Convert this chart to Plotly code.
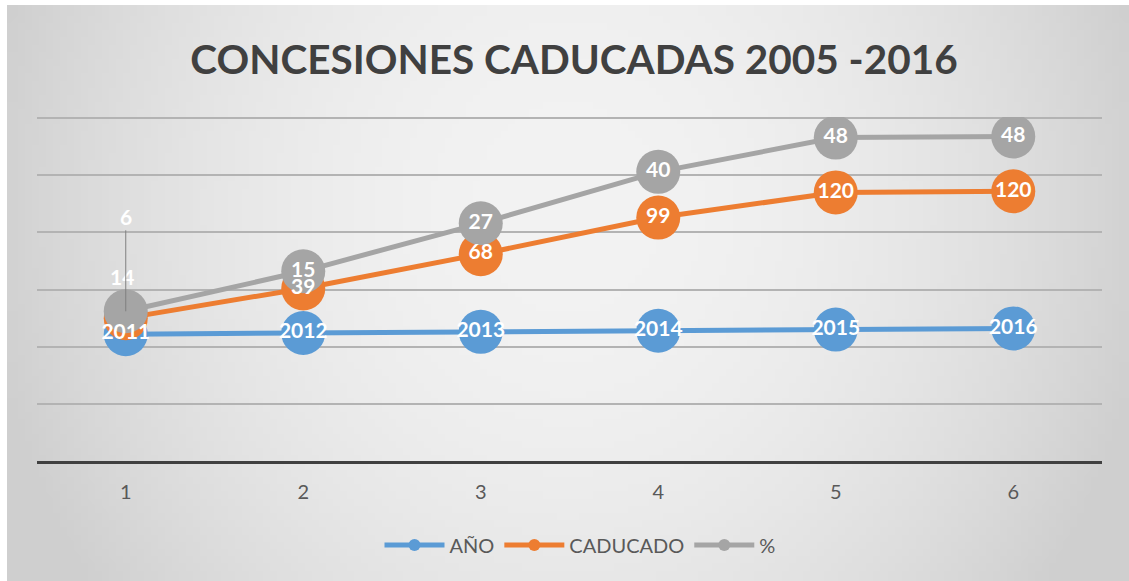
import zlib, struct, base64
import numpy as np
import plotly.graph_objects as go

# ---------------- data ----------------
categories = ["1", "2", "3", "4", "5", "6"]
ano = [2011, 2012, 2013, 2014, 2015, 2016]
caducado = [14, 39, 68, 99, 120, 120]
pct = [6, 15, 27, 40, 48, 48]
series_names = ["AÑO", "CADUCADO", "%"]
title_text = "CONCESIONES CADUCADAS 2005 -2016"

# stacked line (Excel "stacked line with markers")
s1 = np.array(ano, dtype=float)
s2 = s1 + np.array(caducado)
s3 = s2 + np.array(pct)

colors = ["#5B9BD5", "#ED7D31", "#A5A5A5"]

W, H = 1129, 581
L, R, T, B = 37, 27, 117, 120
PW, PH = W - L - R, H - T - B


# ---------------- background gradient image ----------------
def png_gray(w, h, pix):
    raw = b"".join(b"\x00" + bytes(pix[j * w:(j + 1) * w]) for j in range(h))

    def chunk(t, d):
        c = struct.pack(">I", len(d)) + t + d
        return c + struct.pack(">I", zlib.crc32(t + d) & 0xFFFFFFFF)

    return (b"\x89PNG\r\n\x1a\n"
            + chunk(b"IHDR", struct.pack(">IIBBBBB", w, h, 8, 0, 0, 0, 0))
            + chunk(b"IDAT", zlib.compress(raw))
            + chunk(b"IEND", b""))


gw, gh = 160, 80
pix = []
for j in range(gh):
    for i in range(gw):
        dx = (i / (gw - 1) - 0.5) / 0.5
        dy = (j / (gh - 1) - 0.35) / 0.65
        d = dx * dx + 0.35 * dy * dy
        v = 243 - 32 * min(d, 1.1)
        pix.append(int(max(207, min(245, v))))
bg_uri = "data:image/png;base64," + base64.b64encode(png_gray(gw, gh, pix)).decode()

fig = go.Figure()

# lines + markers
for name, ys, col in zip(series_names, [s1, s2, s3], colors):
    fig.add_trace(go.Scatter(
        x=categories, y=ys, name=name, mode="lines+markers",
        line=dict(color=col, width=5),
        marker=dict(color=col, size=44),
        hoverinfo="skip",
    ))

# data labels on top of all markers
lab1 = [str(v) for v in ano]
lab2 = [""] + [str(v) for v in caducado[1:]]
lab3 = [""] + [str(v) for v in pct[1:]]
for ys, labs in zip([s1, s2, s3], [lab1, lab2, lab3]):
    fig.add_trace(go.Scatter(
        x=categories, y=ys, mode="text", text=labs,
        textposition="middle center",
        textfont=dict(family="Lato", size=21, color="white", weight="bold"),
        showlegend=False, hoverinfo="skip",
    ))

# moved labels for the first category (x given as category index)
fig.add_annotation(x=0, y=s2[0], text=f"<b>{caducado[0]}</b>",
                   showarrow=False, yshift=42, xshift=-4,
                   font=dict(family="Lato", size=21, color="white"))
fig.add_annotation(x=0, y=s3[0], text=f"<b>{pct[0]}</b>",
                   showarrow=True, ax=0, ay=-95, arrowhead=0, arrowwidth=1,
                   arrowcolor="#7f7f7f",
                   font=dict(family="Lato", size=21, color="white"))

fig.update_layout(
    width=W, height=H,
    margin=dict(l=L, r=R, t=T, b=B, autoexpand=False),
    paper_bgcolor="white",
    plot_bgcolor="rgba(0,0,0,0)",
    title=dict(text="<b>" + title_text + "</b>",
               x=574 / W, xanchor="center", y=1 - 60 / H, yanchor="middle",
               font=dict(family="Lato", size=40.5, color="#404040")),
    showlegend=True,
    legend=dict(orientation="h", x=(580 - L) / PW, xanchor="center",
                y=(T + PH - 545) / PH, yanchor="middle",
                font=dict(family="Lato", size=20, color="#595959"),
                itemsizing="constant", itemwidth=60,
                bgcolor="rgba(0,0,0,0)"),
    images=[dict(source=bg_uri, xref="paper", yref="paper",
                 x=(7 - L) / PW, y=(T + PH - 5) / PH,
                 sizex=(W - 7) / PW, sizey=(H - 5) / PH,
                 xanchor="left", yanchor="top", sizing="stretch",
                 layer="below")],
)

fig.update_xaxes(type="category", range=[-0.5, 5.5], showgrid=False,
                 zeroline=False, showline=True, linecolor="#404040",
                 linewidth=3, ticks="", ticklabelstandoff=11,
                 tickfont=dict(family="Lato", size=20, color="#595959"))
fig.update_yaxes(range=[1900, 2201], dtick=50, showticklabels=False,
                 showgrid=True, gridcolor="#b3b3b3", gridwidth=1.5,
                 zeroline=False)

fig.write_html("out.html", config={"displayModeBar": False},
               post_script="document.body.style.margin='0px';")
